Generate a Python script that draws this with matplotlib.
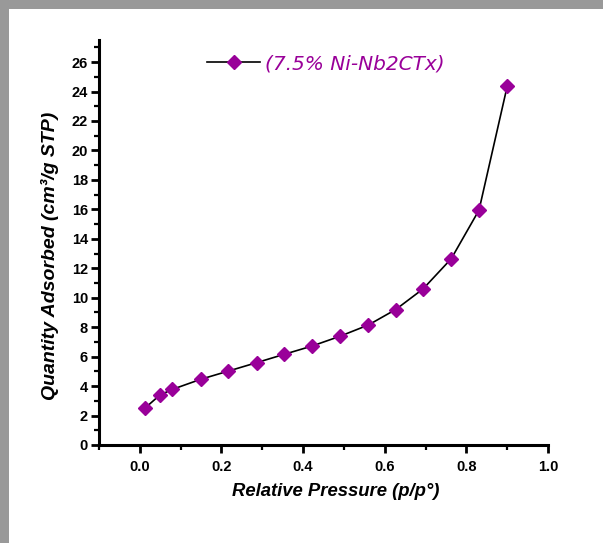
import matplotlib
matplotlib.use("Agg")
import matplotlib.pyplot as plt
from matplotlib.patches import Rectangle
from matplotlib.ticker import MultipleLocator

# Data
rel_pressure = [0.012, 0.049, 0.080, 0.149, 0.217, 0.286, 0.354, 0.422,
                0.490, 0.560, 0.627, 0.694, 0.763, 0.831, 0.900]
quantity = [2.49, 3.39, 3.78, 4.46, 5.02, 5.59, 6.16, 6.72,
            7.38, 8.15, 9.20, 10.60, 12.65, 15.95, 24.35]
series_label = "(7.5% Ni-Nb2CTx)"
x_label = "Relative Pressure (p/p°)"
y_label = "Quantity Adsorbed (cm³/g STP)"

W, H = 603, 550
fig = plt.figure(figsize=(W / 100, H / 100), dpi=100)
fig.patch.set_facecolor("white")

# gray frame strips (top and left)
gray = "#999999"
fig.patches.append(Rectangle((0, 1 - 9 / H), 1, 9 / H, transform=fig.transFigure,
                             facecolor=gray, edgecolor="none", zorder=0))
fig.patches.append(Rectangle((0, 1 - 543 / H), 9 / W, 543 / H, transform=fig.transFigure,
                             facecolor=gray, edgecolor="none", zorder=0))

left, right = 99 / W, 548 / W
bottom, top = 1 - 445 / H, 1 - 40 / H
ax = fig.add_axes([left, bottom, right - left, top - bottom])
ax.set_facecolor("none")

purple = "#990099"
line, = ax.plot(rel_pressure, quantity, color="black", lw=1.2, marker="D",
                markersize=7.5, markerfacecolor=purple, markeredgecolor=purple,
                label=series_label, zorder=3)

ax.set_xlim(-0.1, 1.0)
ax.set_ylim(0, 27.5)
ax.xaxis.set_major_locator(MultipleLocator(0.2))
ax.xaxis.set_minor_locator(MultipleLocator(0.1))
ax.yaxis.set_major_locator(MultipleLocator(2))
ax.yaxis.set_minor_locator(MultipleLocator(1))
ax.set_xticks([0.0, 0.2, 0.4, 0.6, 0.8, 1.0])
ax.set_xticklabels(["0.0", "0.2", "0.4", "0.6", "0.8", "1.0"])
ax.set_yticks(list(range(0, 27, 2)))

for s in ["top", "right"]:
    ax.spines[s].set_visible(False)
for s in ["left", "bottom"]:
    ax.spines[s].set_linewidth(2.2)

ax.tick_params(axis="both", which="major", direction="out", length=6, width=2,
               labelsize=10.5, pad=2)
ax.tick_params(axis="both", which="minor", direction="out", length=3.5, width=1.6)
for lab in ax.get_xticklabels() + ax.get_yticklabels():
    lab.set_fontweight("bold")
    lab.set_fontfamily("Liberation Sans")
ax.tick_params(axis="x", which="major", pad=5)

ax.set_xlabel(x_label, fontsize=13.3, fontweight="bold", style="italic",
              family="Liberation Sans")
ax.set_ylabel(y_label, fontsize=14, fontweight="bold", style="italic",
              family="Liberation Sans")
ax.xaxis.set_label_coords(0.528, -0.116)
ax.yaxis.set_label_coords(-0.109, 0.467)
ax.xaxis.label.set_verticalalignment("center")
ax.yaxis.label.set_verticalalignment("center")

leg = ax.legend(loc="upper left", bbox_to_anchor=(0.21, 1.0), frameon=False,
                handlelength=2.6, handletextpad=0.25, borderaxespad=0.3,
                prop={"family": "DejaVu Sans", "style": "italic", "size": 14.5})
for t in leg.get_texts():
    t.set_color(purple)

fig.savefig("out.png", dpi=100, facecolor=fig.get_facecolor())
